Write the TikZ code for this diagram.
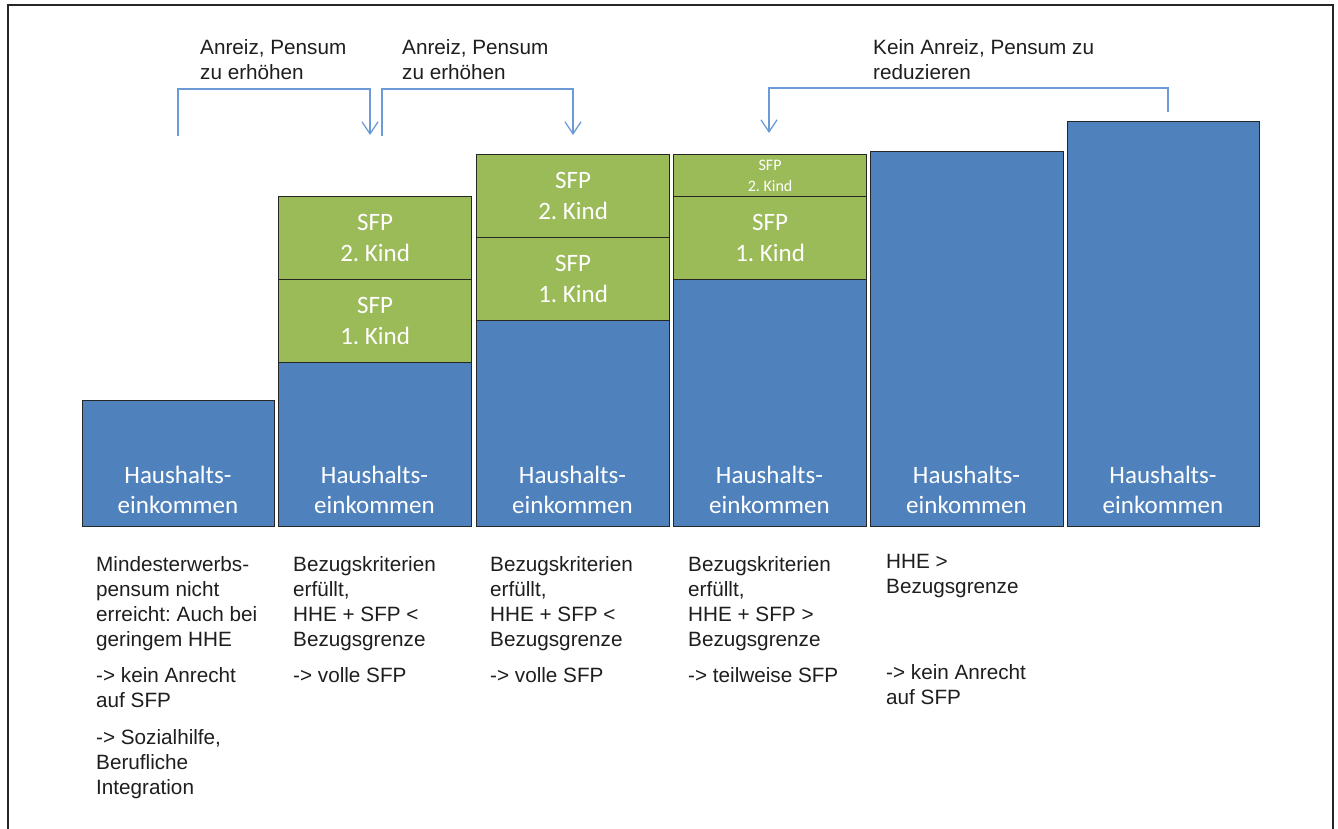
\documentclass[tikz,border=0pt]{standalone}
\usepackage{fontspec}
\setmainfont{Liberation Sans}
\newfontfamily\calfont{Carlito}
\usetikzlibrary{arrows.meta}
\frenchspacing
\definecolor{hheblue}{HTML}{4F81BD}
\definecolor{sfpgreen}{HTML}{9BBB59}
\definecolor{arrblue}{HTML}{6A9BD6}
\definecolor{txtgray}{HTML}{1E1E1E}
\begin{document}
\begin{tikzpicture}[x=1pt,y=-1pt,
  boxbase/.style={draw=black!85, line width=1.2pt, inner sep=0pt, anchor=north west, minimum width=193pt},
  bluebox/.style={boxbase, fill=hheblue},
  greenbox/.style={boxbase, fill=sfpgreen, text=white, align=center, font=\calfont\fontsize{25}{30.5}\selectfont},
  smallgreen/.style={greenbox, font=\calfont\fontsize{16}{21}\selectfont},
  hhelabel/.style={anchor=north, inner sep=0pt, text=white, align=center, font=\calfont\fontsize{25}{30.5}\selectfont},
  desc/.style={anchor=north west, inner sep=0pt, align=left, text=txtgray, font=\fontsize{20.7}{25}\selectfont},
  arr/.style={draw=arrblue, line width=1.3pt, -{Straight Barb[length=12pt,width=16pt,line width=1.3pt]}}
]
\useasboundingbox (0,0) rectangle (1338,829);
% frame
\draw[line width=2.5pt, black!85] (8,829) -- (8,5) -- (1333,5) -- (1333,829);

% column 1
\node[bluebox, minimum height=126pt, minimum width=192pt] (b1) at (82,400) {};
% column 2
\node[bluebox, minimum height=164pt] (b2) at (278,362) {};
\node[greenbox, minimum height=83pt] (g21) at (278,279) {SFP\\1. Kind};
\node[greenbox, minimum height=83pt] (g22) at (278,196) {SFP\\2. Kind};
% column 3
\node[bluebox, minimum height=206pt] (b3) at (476,320) {};
\node[greenbox, minimum height=83pt] (g31) at (476,237) {SFP\\1. Kind};
\node[greenbox, minimum height=83pt] (g32) at (476,154) {SFP\\2. Kind};
% column 4
\node[bluebox, minimum height=247pt] (b4) at (673,279) {};
\node[greenbox, minimum height=83pt] (g41) at (673,196) {SFP\\1. Kind};
\node[smallgreen, minimum height=42pt] (g42) at (673,154) {SFP\\2. Kind};
% column 5
\node[bluebox, minimum height=375pt] (b5) at (870,151) {};
% column 6
\node[bluebox, minimum height=405pt, minimum width=192pt] (b6) at (1067,121) {};

% household income labels
\foreach \n/\x in {1/178, 2/374.5, 3/572.5, 4/769.5, 5/966.5, 6/1163} {
  \node[hhelabel] (h\n) at (\x,461.6) {\strut Haushalts-\\einkommen};
}

% arrows
\coordinate (s1) at (178,136);
\coordinate (t1) at (370,135);
\coordinate (s2) at (382,136);
\coordinate (t2) at (573,135);
\coordinate (s3) at (1168,112);
\coordinate (t3) at (769,133);
\draw[arr] (s1) -- ++(0,-47) -| (t1);
\draw[arr] (s2) -- ++(0,-47) -| (t2);
\draw[arr] (s3) -- ++(0,-24) -| (t3);

% top labels
\node[desc] (l1) at (200,37) {\strut Anreiz, Pensum\\zu erhöhen};
\node[desc] (l2) at (402,37) {\strut Anreiz, Pensum\\zu erhöhen};
\node[desc] (l3) at (873,37) {\strut Kein Anreiz, Pensum zu\\reduzieren};

% bottom descriptions
\node[desc] (d1) at (96,554) {\strut Mindesterwerbs-\\pensum nicht\\erreicht: Auch bei\\geringem HHE\\[11pt]-> kein Anrecht\\auf SFP\\[12pt]-> Sozialhilfe,\\Berufliche\\Integration};
\node[desc] (d2) at (293,554) {\strut Bezugskriterien\\erfüllt,\\HHE + SFP <\\Bezugsgrenze\\[11pt]-> volle SFP};
\node[desc] (d3) at (490,554) {\strut Bezugskriterien\\erfüllt,\\HHE + SFP <\\Bezugsgrenze\\[11pt]-> volle SFP};
\node[desc] (d4) at (688,554) {\strut Bezugskriterien\\erfüllt,\\HHE + SFP >\\Bezugsgrenze\\[11pt]-> teilweise SFP};
\node[desc] (d5) at (886,551) {\strut HHE >\\Bezugsgrenze\\[61pt]-> kein Anrecht\\auf SFP};
\end{tikzpicture}
\end{document}
